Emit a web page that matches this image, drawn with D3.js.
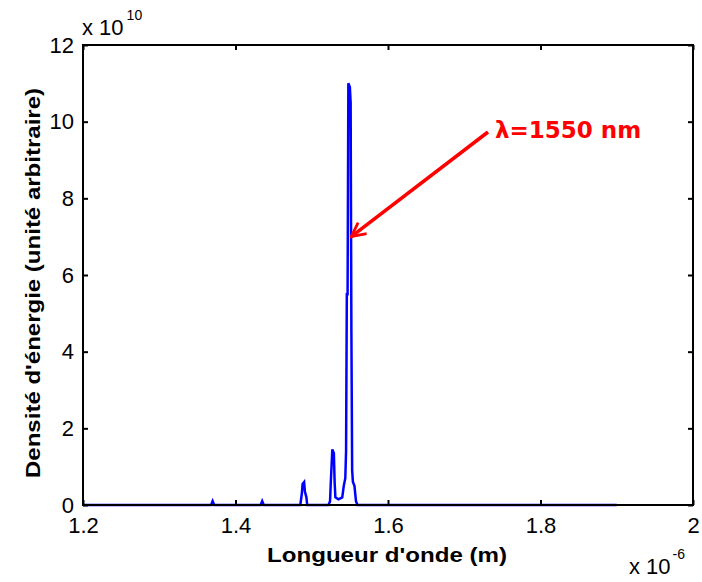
<!DOCTYPE html>
<html>
<head>
<meta charset="utf-8">
<script src="https://cdn.jsdelivr.net/npm/d3@7"></script>
<style>
  body { margin: 0; background: #fff; }
  svg text { font-family: "Liberation Sans", Arial, sans-serif; }
</style>
</head>
<body>
<div id="chart"></div>
<script>
// spectrum: wavelength in µm (x 1e-6 m), energy in units of 1e10
var wavelength = [1.200, 1.368, 1.370, 1.372, 1.433, 1.435, 1.437, 1.485, 1.487, 1.488, 1.490, 1.491, 1.493, 1.494,
                  1.522, 1.524, 1.525, 1.527, 1.529, 1.530, 1.531, 1.535, 1.540, 1.542, 1.544, 1.545, 1.546, 1.547,
                  1.548, 1.550, 1.551, 1.552, 1.553, 1.554, 1.556, 1.558, 1.560, 1.900];
var energy = [0, 0, 0.1, 0, 0, 0.1, 0, 0, 0.3, 0.55, 0.6, 0.35, 0.2, 0,
              0, 0.1, 0.6, 1.45, 1.35, 0.6, 0.2, 0.15, 0.2, 0.5, 0.7, 1.4, 5.5, 5.5,
              11.0, 10.9, 10.5, 4.5, 0.9, 0.6, 0.5, 0.1, 0, 0];

var xTicks = [1.2, 1.4, 1.6, 1.8, 2.0];
var xTickLabels = ["1.2", "1.4", "1.6", "1.8", "2"];
var yTicks = [0, 2, 4, 6, 8, 10, 12];
var yTickLabels = ["0", "2", "4", "6", "8", "10", "12"];

var width = 702;
var height = 582;
var margin = {left: 83, top: 45, right: 9, bottom: 77};
var w = width - margin.left - margin.right;
var h = height - margin.top - margin.bottom;

var svg = d3.select("#chart")
    .append("svg")
    .attr("width", width)
    .attr("height", height);

var g = svg.append("g")
    .attr("transform", "translate(" + margin.left + "," + margin.top + ")");

var x = d3.scaleLinear().domain([1.2, 2.0]).range([0, w]);
var y = d3.scaleLinear().domain([0, 12]).range([h, 0]);

var data = wavelength.map((d, i) => ({x: d, y: energy[i]}));

//the spectrum
g.append("path")
    .datum(data)
    .attr("fill", "none")
    .attr("stroke", "#0000ff")
    .attr("stroke-width", 2.5)
    .attr("d", d3.line().x(d => x(d.x)).y(d => y(d.y)));

//axes, ticks pointing inwards like matlab
g.append("g")
    .attr("transform", "translate(0," + h + ")")
    .call(d3.axisBottom(x).tickValues(xTicks).tickSizeInner(-5).tickSizeOuter(0).tickPadding(12)
        .tickFormat((d, i) => xTickLabels[i]));
g.append("g")
    .call(d3.axisTop(x).tickValues(xTicks).tickSizeInner(-5).tickSizeOuter(0).tickFormat(""));
g.append("g")
    .call(d3.axisLeft(y).tickValues(yTicks).tickSizeInner(-5).tickSizeOuter(0).tickPadding(9)
        .tickFormat((d, i) => yTickLabels[i]));
g.append("g")
    .attr("transform", "translate(" + w + ",0)")
    .call(d3.axisRight(y).tickValues(yTicks).tickSizeInner(-5).tickSizeOuter(0).tickFormat(""));

g.selectAll(".domain").remove();
g.selectAll(".tick line").attr("stroke", "#000").attr("stroke-width", 2);
g.selectAll(".tick text")
    .attr("fill", "#000")
    .style("font-size", "22px")
    .style("font-family", "'Liberation Sans', Arial, sans-serif");

//box
g.append("rect")
    .attr("x", 0).attr("y", 0)
    .attr("width", w).attr("height", h)
    .attr("fill", "none")
    .attr("stroke", "#000")
    .attr("stroke-width", 2);

//exponent labels
var topExp = svg.append("text")
    .attr("x", 82).attr("y", 35)
    .style("font-size", "22px");
topExp.append("tspan").text("x 10");
topExp.append("tspan").attr("dy", -15).attr("dx", 3).style("font-size", "14px").text("10");

var botExp = svg.append("text")
    .attr("x", 629).attr("y", 574)
    .style("font-size", "22px");
botExp.append("tspan").text("x 10");
botExp.append("tspan").attr("dy", -15).attr("dx", 2).style("font-size", "14px").text("-6");

//axis titles
svg.append("text")
    .attr("x", 387)
    .attr("y", 562)
    .attr("text-anchor", "middle")
    .attr("textLength", 240)
    .attr("lengthAdjust", "spacingAndGlyphs")
    .style("font-size", "21px")
    .style("font-weight", "bold")
    .text("Longueur d'onde (m)");

svg.append("text")
    .attr("transform", "translate(40,283) rotate(-90)")
    .attr("text-anchor", "middle")
    .attr("textLength", 390)
    .attr("lengthAdjust", "spacingAndGlyphs")
    .style("font-size", "21px")
    .style("font-weight", "bold")
    .text("Densité d'énergie (unité arbitraire)");

//annotation arrow pointing at the 1550 nm peak
svg.append("defs").append("marker")
    .attr("id", "arrow")
    .attr("viewBox", "0 0 10 10")
    .attr("refX", 9).attr("refY", 5)
    .attr("markerWidth", 5).attr("markerHeight", 5)
    .attr("markerUnits", "strokeWidth")
    .attr("orient", "auto")
    .append("path")
    .attr("d", "M1,1 L9,5 L1,9")
    .attr("fill", "none")
    .attr("stroke", "#ff0000")
    .attr("stroke-width", 1.6);

svg.append("line")
    .attr("x1", 488).attr("y1", 132)
    .attr("x2", x(1.5505) + margin.left + 1).attr("y2", y(7) + margin.top)
    .attr("stroke", "#ff0000")
    .attr("stroke-width", 3.5)
    .attr("marker-end", "url(#arrow)");

svg.append("text")
    .attr("x", 495).attr("y", 138)
    .attr("fill", "#ff0000")
    .style("font-family", "'DejaVu Sans', sans-serif")
    .style("font-weight", "bold")
    .style("font-size", "23px")
    .text("λ=1550 nm");
</script>
</body>
</html>
